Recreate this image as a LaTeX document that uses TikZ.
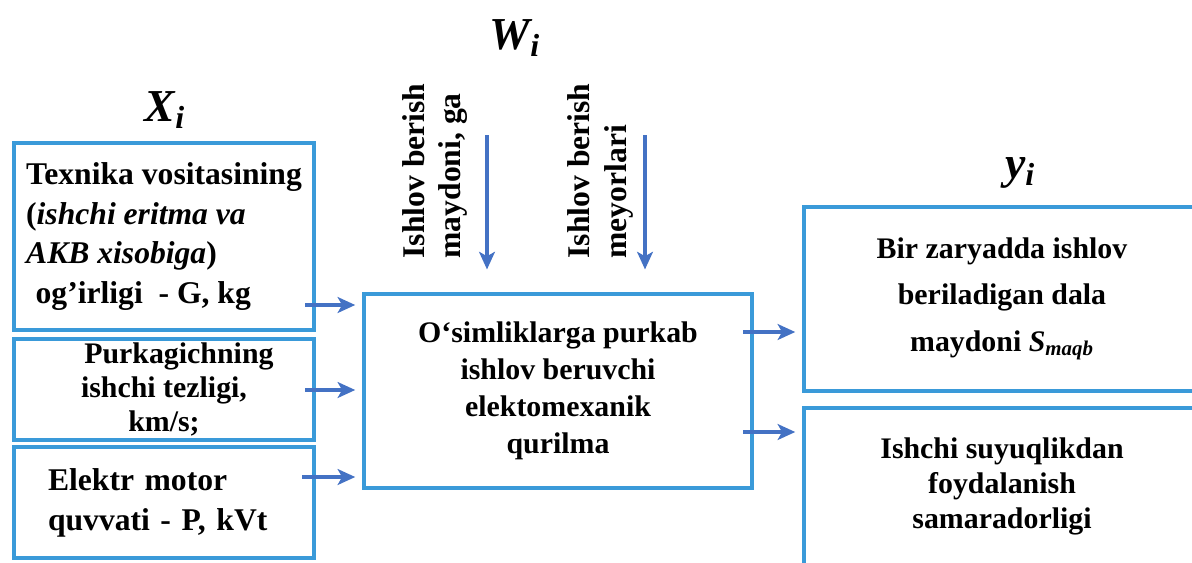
\documentclass[tikz,border=0pt]{standalone}
\usepackage{fontspec}
\setmainfont{Liberation Serif}
\usetikzlibrary{arrows.meta}
\definecolor{boxblue}{RGB}{58,154,217}
\definecolor{arrblue}{RGB}{68,114,196}

\begin{document}
\begin{tikzpicture}[x=.02cm, y=-.02cm,
  box/.style={draw=boxblue, line width=2pt, inner sep=2pt, font=\bfseries\fontsize{18}{22.7}\selectfont},
  arr/.style={draw=arrblue, line width=2.2pt, -{Stealth[length=10pt,width=9pt,inset=2.5pt]}, shorten >=4pt},
  lab/.style={font=\bfseries\itshape\fontsize{26}{30}\selectfont},
  vtxt/.style={rotate=90, align=left, font=\bfseries\fontsize{18}{21}\selectfont}]
\useasboundingbox (0,0) rectangle (1192,562);
\node[box, minimum width=6cm, minimum height=3.74cm, align=left] (in1) at (164,236.5) {Texnika vositasining\\(\textit{ishchi eritma va}\\\textit{AKB xisobiga})\\\hspace*{.3em}og’irligi~ - G, kg};
\node[box, minimum width=6cm, minimum height=1.9cm, align=center, font=\bfseries\fontsize{17}{19.5}\selectfont] (in2) at (164,389.5) {\hspace*{1em}Purkagichning\\ishchi tezligi,\\km/s;};
\node[box, minimum width=6cm, minimum height=2.22cm, inner xsep=.68cm, text width=4.64cm, align=left] (in3) at (164,502.5) {Elektr motor\\quvvati - P, kVt\\[.3em]};
\node[box, minimum width=7.76cm, minimum height=3.88cm, align=center, font=\bfseries\fontsize{17}{21}\selectfont] (cen) at (558,391) {O‘simliklarga purkab\\ishlov beruvchi\\elektomexanik\\qurilma};
\node[box, minimum width=7.92cm, minimum height=3.68cm, align=center, font=\bfseries\fontsize{17}{26.5}\selectfont] (out1) at (1002,299) {Bir zaryadda ishlov\\beriladigan dala\\maydoni \textit{S}\textsubscript{\textit{maqb}}};
\node[box, minimum width=7.92cm, minimum height=3.14cm, align=center, font=\bfseries\fontsize{17}{20}\selectfont] (out2) at (1002,486.5) {Ishchi suyuqlikdan\\foydalanish\\samaradorligi};
\node[lab] (xlab) at (165,110) {X\textsubscript{i}};
\node[lab] (wlab) at (515,38) {W\textsubscript{i}};
\node[lab] (ylab) at (1020,173) {y\textsubscript{i}};
\node[vtxt] (v1) at (435,171) {Ishlov berish\\maydoni, ga};
\node[vtxt] (v2) at (600,171) {Ishlov berish\\meyorlari};
\coordinate (a1) at (305,305);
\coordinate (a2) at (305,390);
\coordinate (a3) at (302,477);
\coordinate (b1) at (743,332);
\coordinate (b2) at (743,432);
\coordinate (w1) at (487,135);
\coordinate (w2) at (645,135);
\draw[arr] (a1) -- (a1 -| cen.west);
\draw[arr] (a2) -- (a2 -| cen.west);
\draw[arr] (a3) -- (a3 -| cen.west);
\draw[arr] (b1) -- (b1 -| out1.west);
\draw[arr] (b2) -- (b2 -| out2.west);
\draw[arr, shorten >=13pt] (w1) -- (w1 |- cen.north);
\draw[arr, shorten >=13pt] (w2) -- (w2 |- cen.north);
\end{tikzpicture}
\end{document}
